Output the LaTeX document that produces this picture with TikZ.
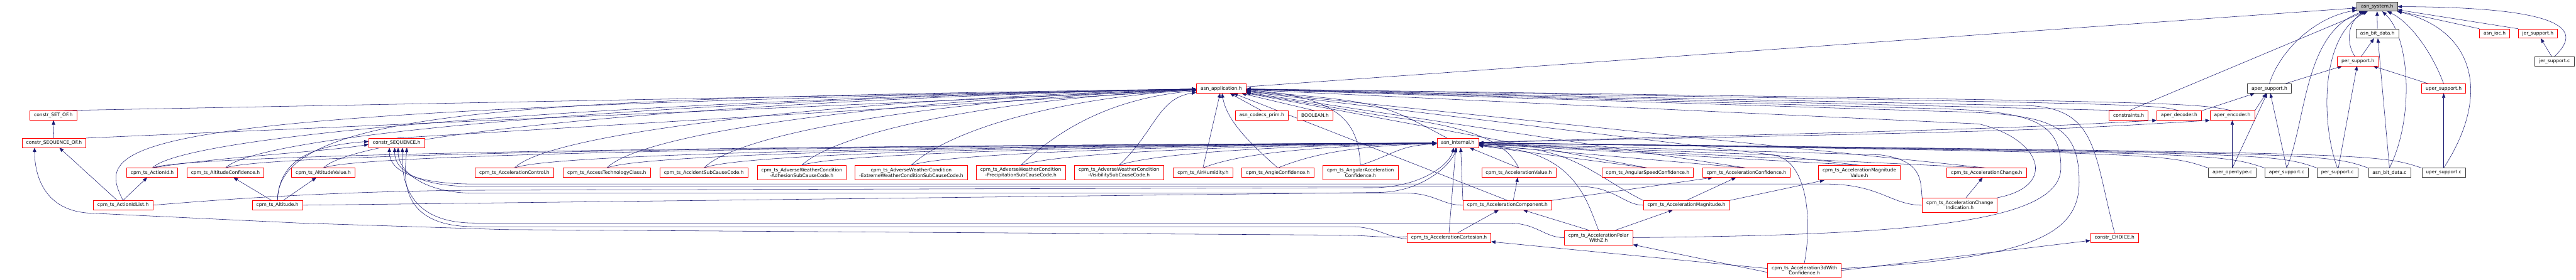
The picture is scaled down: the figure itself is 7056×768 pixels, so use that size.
\documentclass[tikz,border=0pt]{standalone}
\usepackage{fontspec}
\setmainfont{DejaVu Sans}
\usetikzlibrary{arrows.meta}
\definecolor{edgeblue}{RGB}{25,25,112}
\pgfdeclarelayer{bg}
\pgfsetlayers{bg,main}
\tikzset{
  file/.style={draw=red, line width=0.8pt, fill=white, inner xsep=8.5pt, inner ysep=0pt,
    minimum height=19pt, align=center, font=\fontsize{9.7}{11.2}\selectfont},
  twoline/.style={file, minimum height=30pt},
  done/.style={file, draw=black!75},
  root/.style={file, draw=black!75, fill=black!25},
  inc/.style={draw=edgeblue, line width=0.7pt, -{Triangle[length=9pt,width=7pt]}},
}
\begin{document}
\begin{tikzpicture}[x=0.75pt,y=-0.75pt]
\useasboundingbox (0,0) rectangle (7056,768);
% top of the graph
\node[root] (sys) at (6511,18) {asn\_system.h};
\node[done] (bitdatah) at (6512,92) {asn\_bit\_data.h};
\node[file] (ioc) at (6833,92) {asn\_ioc.h};
\node[file] (jerh) at (6951.5,92) {jer\_support.h};
\node[file] (perh) at (6458.5,168) {per\_support.h};
\node[done] (jerc) at (6997,168) {jer\_support.c};
\node[file] (app) at (3345,243) {asn\_application.h};
\node[done] (aperh) at (6216,243) {aper\_support.h};
\node[file] (uperh) at (6693.5,243) {uper\_support.h};
\node[file] (setof) at (146,317) {constr\_SET\_OF.h};
\node[file] (codecsprim) at (3456,317) {asn\_codecs\_prim.h};
\node[file] (boolean) at (3602,317) {BOOLEAN.h};
\node[file] (constraints) at (5830.5,317) {constraints.h};
\node[file] (aperdec) at (5969,317) {aper\_decoder.h};
\node[file] (aperenc) at (6114.5,317) {aper\_encoder.h};
\node[file] (seqof) at (148,392) {constr\_SEQUENCE\_OF.h};
\node[file] (cseq) at (1086.5,392) {constr\_SEQUENCE.h};
\node[file] (internal) at (3993,392) {asn\_internal.h};
% cpm_ts row
\node[file] (actionid) at (417,474) {cpm\_ts\_ActionId.h};
\node[file] (altconf) at (617.5,474) {cpm\_ts\_AltitudeConfidence.h};
\node[file] (altval) at (885.5,474) {cpm\_ts\_AltitudeValue.h};
\node[file] (accctrl) at (1409,474) {cpm\_ts\_AccelerationControl.h};
\node[file] (acctech) at (1662,474) {cpm\_ts\_AccessTechnologyClass.h};
\node[file] (accident) at (1928,474) {cpm\_ts\_AccidentSubCauseCode.h};
\node[twoline] (awcadh) at (2196,474) {cpm\_ts\_AdverseWeatherCondition\\-AdhesionSubCauseCode.h};
\node[twoline] (awcext) at (2496,474) {cpm\_ts\_AdverseWeatherCondition\\-ExtremeWeatherConditionSubCauseCode.h};
\node[twoline] (awcprec) at (2796,474) {cpm\_ts\_AdverseWeatherCondition\\-PrecipitationSubCauseCode.h};
\node[twoline] (awcvis) at (3065,474) {cpm\_ts\_AdverseWeatherCondition\\-VisibilitySubCauseCode.h};
\node[file] (airhum) at (3295,474) {cpm\_ts\_AirHumidity.h};
\node[file] (angleconf) at (3500,474) {cpm\_ts\_AngleConfidence.h};
\node[twoline] (angaccconf) at (3726.5,474) {cpm\_ts\_AngularAcceleration\\Confidence.h};
\node[file] (accval) at (4160,474) {cpm\_ts\_AccelerationValue.h};
\node[file] (angspeedconf) at (4513,474) {cpm\_ts\_AngularSpeedConfidence.h};
\node[file] (accconf) at (4783.5,474) {cpm\_ts\_AccelerationConfidence.h};
\node[twoline] (accmagval) at (5093,474) {cpm\_ts\_AccelerationMagnitude\\Value.h};
\node[file] (accchange) at (5441.5,474) {cpm\_ts\_AccelerationChange.h};
\node[done] (aperopen) at (6114.5,474) {aper\_opentype.c};
\node[done] (aperc) at (6263.5,474) {aper\_support.c};
\node[done] (perc) at (6402.5,474) {per\_support.c};
\node[done] (bitdatac) at (6545,474) {asn\_bit\_data.c};
\node[done] (uperc) at (6693.5,474) {uper\_support.c};
% composite types
\node[file] (actionidlist) at (337,563) {cpm\_ts\_ActionIdList.h};
\node[file] (altitude) at (760,563) {cpm\_ts\_Altitude.h};
\node[file] (acccomp) at (4129,563) {cpm\_ts\_AccelerationComponent.h};
\node[file] (accmag) at (4619.5,563) {cpm\_ts\_AccelerationMagnitude.h};
\node[twoline] (accchangeind) at (5368,563) {cpm\_ts\_AccelerationChange\\Indication.h};
\node[file] (acccart) at (3969,652) {cpm\_ts\_AccelerationCartesian.h};
\node[twoline] (accpolar) at (4378.5,652) {cpm\_ts\_AccelerationPolar\\WithZ.h};
\node[file] (cchoice) at (5792,652) {constr\_CHOICE.h};
\node[twoline] (acc3d) at (4942.5,742) {cpm\_ts\_Acceleration3dWith\\Confidence.h};

\begin{pgfonlayer}{bg}
% into asn_system.h
\draw[inc] (app) -- (sys);
\draw[inc] (constraints.north) -- (sys);
\draw[inc] (aperh.north) .. controls (6240,150) and (6330,50) .. (sys);
\draw[inc] (aperc.north) .. controls (6318,330) and (6310,90) .. (sys);
\draw[inc] (perc.north) .. controls (6360,350) and (6350,100) .. (sys);
\draw[inc] ([xshift=-6pt]perh.north) .. controls (6425,120) and (6430,55) .. (sys);
\draw[inc] (bitdatah) -- (sys);
\draw[inc] (bitdatac.north) .. controls (6615,320) and (6600,100) .. (sys);
\draw[inc] (uperh.north) .. controls (6660,140) and (6600,60) .. (sys);
\draw[inc] (uperc.north) .. controls (6830,250) and (6770,80) .. (sys);
\draw[inc] (ioc.north west) -- (sys);
\draw[inc] (jerh.north west) -- (sys);
\draw[inc] (jerc.north) .. controls (7065,90) and (7060,20) .. (sys);
\draw[inc] (jerc) -- (jerh);
% support headers
\draw[inc] (uperc) -- (uperh);
\draw[inc] (uperh) -- (perh);
\draw[inc] (perc) -- (perh);
\draw[inc] (aperh) -- (perh);
\draw[inc] (perh) -- (bitdatah);
\draw[inc] (bitdatac.north) -- (bitdatah);
\draw[inc] (aperdec.north east) -- (aperh);
\draw[inc] (aperenc.north east) -- (aperh);
\draw[inc] (aperopen.north) -- (aperh);
\draw[inc] (aperopen) -- (aperenc);
\draw[inc] (aperc.north) -- (aperh);
\draw[inc] (internal) .. controls (5500,352) .. (aperdec.south west);
\draw[inc] (internal) .. controls (5600,358) .. (aperenc.south west);
% into asn_application.h
\draw[inc] (constraints.north) -- (app);
\draw[inc] (aperdec.north) .. controls (5900,285) .. (app);
\draw[inc] (aperenc.north) .. controls (6000,280) .. (app);
\draw[inc] (codecsprim.north) -- (app);
\draw[inc] (boolean.north) -- (app);
\draw[inc] (cseq.north) -- (app);
\draw[inc] ([xshift=-22pt]internal.north) .. controls (3780,280) .. (app);
\draw[inc] (setof.north) -- (app);
\draw[inc] (seqof.north east) -- (app);
\draw[inc] (seqof) -- (setof);
\draw[inc] ([xshift=-12pt]actionidlist.north) -- (seqof);
\foreach \s/\x in {actionid/417, altconf/617.5, altval/885.5, accctrl/1409, acctech/1662,
  accident/1928, awcadh/2196, awcext/2496, awcprec/2796, awcvis/3065}
  {\draw[inc] (\s.north) .. controls (\x+100,360) and ({(\x+3277)/2},270) .. (app);}
\draw[inc] (airhum.north) -- (app);
\draw[inc] (angleconf.north) .. controls (3420,390) and (3360,330) .. (app);
\draw[inc] (angaccconf.north) .. controls (3720,360) and (3700,265) .. (app);
\draw[inc] (accval.north) .. controls (4130,400) and (4060,350) .. (3800,320) -- (app);
\foreach \s in {angspeedconf, accconf, accmagval, accchange}
  {\draw[inc] (\s.north) -- (app);}
% into asn_internal.h
\foreach \s/\x in {actionid/417, altconf/617.5, altval/885.5, accctrl/1409, acctech/1662,
  accident/1928, awcadh/2196, awcext/2496, awcprec/2796, awcvis/3065, airhum/3295,
  angleconf/3500, angaccconf/3726.5}
  {\draw[inc] (\s.north) .. controls (\x+100,420) and ({(\x+3935)/2},400) .. (internal);}
\foreach \s in {accval, angspeedconf, accconf, accmagval, accchange}
  {\draw[inc] (\s.north) -- (internal);}
\draw[inc] (aperopen.north west) .. controls (5930,420) .. (internal.east);
\draw[inc] (aperc.north west) .. controls (6080,420) .. (internal.east);
\draw[inc] (perc.north west) .. controls (6230,420) .. (internal.east);
\draw[inc] (bitdatac.north west) .. controls (6370,420) .. (internal.east);
\draw[inc] (uperc.north west) .. controls (6510,420) .. (internal.east);
% ActionId, ActionIdList and Altitude
\draw[inc] (actionid.north) .. controls (600,430) and (900,416) .. ([yshift=-3pt]cseq.west);
\draw[inc] (actionidlist.north) -- (actionid);
\draw[inc] (actionidlist.north) .. controls (250,380) and (330,300) .. (app);
\draw[inc] (actionidlist.east) .. controls (600,548) and (900,525) .. (1300,522) -- (3770,515)
  .. controls (3900,510) and (3970,450) .. ([xshift=-8pt]internal.south);
\draw[inc] ([xshift=-12pt]altitude.north) -- (altconf);
\draw[inc] ([xshift=12pt]altitude.north) -- (altval);
\draw[inc] (altitude.north) .. controls (765,440) and (850,400) .. ([yshift=3pt]cseq.west);
\draw[inc] (altitude.north) .. controls (760,290) and (1500,270) .. (app);
\draw[inc] (altitude.east) -- (3780,528) .. controls (3900,525) and (3975,450) .. ([xshift=-2pt]internal.south);
% acceleration types
\draw[inc] (acccomp.north) -- (app);
\draw[inc] (acccomp.north west) -- ([xshift=6pt]internal.south);
\draw[inc] ([xshift=12pt]acccomp.north) -- (accval);
\draw[inc] (acccomp.north east) -- (accconf);
\draw[inc] (accmag.north) -- (accconf);
\draw[inc] (accmag.north east) -- (accmagval);
\draw[inc] (accmag.north west) .. controls (4400,500) and (4330,430) .. (4200,410) -- (internal);
\draw[inc] (accchangeind) -- (accchange);
\draw[inc] (accchangeind.north west) .. controls (5260,500) and (5270,440) .. (5150,425) -- (internal);
\draw[inc] (accchangeind.north east) .. controls (5640,510) and (5590,380) .. (5420,340) -- (app);
\draw[inc] (acccart.north) -- ([xshift=-4pt]internal.south);
\draw[inc] (acccart) -- (acccomp);
\draw[inc] ([xshift=-20pt]accpolar.north) -- (acccomp);
\draw[inc] ([xshift=35pt]accpolar.north) -- (accmag);
\draw[inc] (accpolar.north) .. controls (4350,560) and (4320,440) .. (4150,410) -- (internal);
\draw[inc] (accpolar.east) .. controls (5250,645) and (5645,610) .. (5645,460)
  .. controls (5645,330) and (5560,305) .. (5300,298) -- (app);
\draw[inc] ([yshift=-4pt]acc3d.west) -- (accpolar);
\draw[inc] ([yshift=4pt]acc3d.west) -- (acccart);
\draw[inc] (acc3d.east) -- (cchoice);
\draw[inc] (acc3d.north) .. controls (4965,600) and (4950,430) .. (4850,425) -- (internal);
\draw[inc] ([yshift=4pt]acc3d.east) .. controls (5550,710) and (5695,650) .. (5695,500)
  .. controls (5695,330) and (5610,312) .. (5300,305) -- (app);
\draw[inc] (cchoice.north) .. controls (5735,420) and (5745,300) .. (5560,290) -- (app);
% long line to the far left
\draw[inc] ([yshift=2pt]acccart.west) .. controls (3780,654) and (3760,645) .. (3650,645)
  -- (1380,630) -- (820,612) -- (250,585) .. controls (120,580) and (95,480) .. ([xshift=-40pt]seqof.south);
% into constr_SEQUENCE.h
\draw[inc] (accchangeind.west) .. controls (5180,563) and (5150,505) .. (5000,505) -- (1300,505)
  .. controls (1140,505) and (1066,470) .. ([xshift=-15pt]cseq.south);
\draw[inc] (accmag.west) .. controls (4450,563) and (4420,512) .. (4330,512) -- (1300,512)
  .. controls (1150,512) and (1080,470) .. ([xshift=-4pt]cseq.south);
\draw[inc] (acccomp.west) .. controls (3950,563) and (3930,530) .. (3850,530) -- (1300,530)
  .. controls (1160,530) and (1090,470) .. ([xshift=3pt]cseq.south);
\draw[inc] (accpolar.west) .. controls (4230,652) and (4210,612) .. (4130,612) -- (1300,612)
  .. controls (1100,612) and (1100,470) .. ([xshift=12pt]cseq.south);
\draw[inc] ([yshift=-3pt]acccart.west) .. controls (3790,648) and (3770,622) .. (3700,622) -- (1300,622)
  .. controls (1080,622) and (1110,470) .. ([xshift=21pt]cseq.south);
\end{pgfonlayer}
\end{tikzpicture}
\end{document}
